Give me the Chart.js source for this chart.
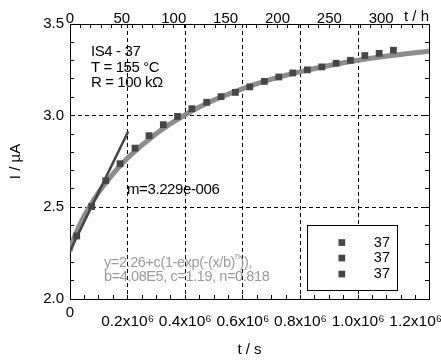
<!DOCTYPE html>
<html>
<head>
<meta charset="utf-8">
<script src="https://cdn.jsdelivr.net/npm/chart.js@4.4.0/dist/chart.umd.min.js"></script>
<style>
  body { margin: 0; background: #fff; }
  #wrap { width: 441px; height: 364px; }
</style>
</head>
<body>
<div id="wrap"><canvas id="chart" width="441" height="364"></canvas></div>
<script>
// measured current of sample IS4 - 37 (t in s, I in uA)
const timeS = [23260, 75350, 124000, 173600, 225700, 274300, 324000, 373300, 423000, 474600, 524300, 574000,
  624000, 674600, 724600, 773300, 824000, 874000, 923600, 973300, 1023300, 1073000, 1122600];
const currentUA = [2.344, 2.504, 2.645, 2.738, 2.823, 2.891, 2.951, 2.996, 3.038, 3.073, 3.104, 3.127,
  3.157, 3.187, 3.211, 3.233, 3.250, 3.266, 3.286, 3.302, 3.328, 3.340, 3.357];

// grey fit curve
const fitTimeS = [0, 10000, 25000, 50000, 100000, 150000, 200000, 300000, 400000, 500000, 600000,
  700000, 800000, 900000, 1000000, 1100000, 1246000];
const fitCurrentUA = [2.26, 2.316, 2.375, 2.456, 2.583, 2.684, 2.769, 2.903, 3.005, 3.085, 3.148,
  3.199, 3.240, 3.274, 3.302, 3.325, 3.352];

// initial slope line (m=3.229e-006)
const slopeTimeS = [0, 202000];
const slopeCurrentUA = [2.262, 2.914];

// axes
const xMax = 1246000;          // s
const xMinorStep = 50000;
const hMax = 346.1;            // h, same span as xMax
const xLabelValues = [0, 200000, 400000, 600000, 800000, 1000000, 1200000];
const xLabels = ['', '0.2x10⁶', '0.4x10⁶', '0.6x10⁶', '0.8x10⁶', '1.0x10⁶', '1.2x10⁶'];
const hLabelValues = [0, 50, 100, 150, 200, 250, 300];
const hLabels = ['0', '50', '100', '150', '200', '250', '300'];
const yLabelValues = [2.0, 2.5, 3.0, 3.5];
const yLabels = ['2.0', '2.5', '3.0', '3.5'];
const legendLabels = ['37', '37', '37'];

const FONT = '"Liberation Sans", Arial, Helvetica, sans-serif';
const transparent = 'rgba(0,0,0,0)';

function findIdx(v, values) {
  for (let i = 0; i < values.length; i++) {
    if (Math.abs(v - values[i]) < 1e-6 * Math.max(1, Math.abs(values[i]))) return i;
  }
  return -1;
}
function labelFor(values, labels) {
  return v => {
    const i = findIdx(v, values);
    return i < 0 ? '' : labels[i];
  };
}
// dashed grid only on the inner major values
function gridFor(values) {
  return ctx => {
    if (!ctx.tick) return transparent;
    const i = findIdx(ctx.tick.value, values);
    return (i > 0 && i < values.length - 1) ? '#000' : transparent;
  };
}

function pts(xs, ys) {
  return xs.map((x, i) => ({ x: x, y: ys[i] }));
}

const textPlugin = {
  id: 'texts',
  afterDraw(chart) {
    const ctx = chart.ctx;
    const xs = chart.scales.x;
    ctx.save();
    ctx.textBaseline = 'middle';
    ctx.fillStyle = '#000';
    ctx.font = '15px ' + FONT;

    // the origin label sits higher than the others
    ctx.textAlign = 'center';
    ctx.fillText('0', xs.getPixelForValue(0), 313);

    ctx.textAlign = 'left';
    ctx.letterSpacing = '-0.4px';
    ctx.fillText('IS4 - 37', 91, 52);
    ctx.fillText('T = 155 °C', 91, 67.5);
    ctx.fillText('R = 100 kΩ', 91, 83);
    ctx.fillText('m=3.229e-006', 127, 190);

    // fit formula in grey
    ctx.fillStyle = '#9a9a9a';
    ctx.font = '14.5px ' + FONT;
    let x = 104;
    const part1 = 'y=2.26+c(1-exp(-(x/b)';
    ctx.fillText(part1, x, 263);
    x += ctx.measureText(part1).width;
    ctx.font = '9px ' + FONT;
    ctx.fillText('n', x, 257);
    x += ctx.measureText('n').width;
    ctx.font = '14.5px ' + FONT;
    ctx.fillText(')),', x, 263);
    ctx.fillText('b=4.08E5, c=1.19, n=0.818', 104, 277);

    // legend box
    ctx.letterSpacing = '0px';
    ctx.fillStyle = '#fff';
    ctx.fillRect(307, 225, 91, 66);
    ctx.strokeStyle = '#000';
    ctx.lineWidth = 1;
    ctx.strokeRect(307.5, 225.5, 90, 65);
    const rows = [242.5, 258, 274];
    ctx.font = '14.5px ' + FONT;
    ctx.textAlign = 'right';
    legendLabels.forEach((t, i) => {
      ctx.fillStyle = '#464646';
      ctx.fillRect(338.5, rows[i] - 3.3, 6.7, 6.7);
      ctx.fillStyle = '#000';
      ctx.fillText(t, 390, rows[i]);
    });
    ctx.restore();
  }
};

new Chart(document.getElementById('chart'), {
  type: 'scatter',
  data: {
    datasets: [
      {
        label: '37',
        data: pts(timeS, currentUA),
        pointStyle: 'rect',
        pointRadius: 4.8,
        pointBackgroundColor: '#464646',
        pointBorderColor: '#464646',
        pointBorderWidth: 0,
        showLine: false,
        order: 0
      },
      {
        label: 'slope',
        data: pts(slopeTimeS, slopeCurrentUA),
        showLine: true,
        borderColor: '#444',
        borderWidth: 2.5,
        pointRadius: 0,
        order: 1
      },
      {
        label: 'fit',
        data: pts(fitTimeS, fitCurrentUA),
        showLine: true,
        borderColor: '#8c8c8c',
        borderWidth: 5,
        pointRadius: 0,
        cubicInterpolationMode: 'monotone',
        order: 2
      }
    ]
  },
  options: {
    responsive: false,
    animation: false,
    events: [],
    layout: { padding: 0 },
    plugins: { legend: { display: false }, tooltip: { enabled: false } },
    scales: {
      x: {
        type: 'linear',
        position: 'bottom',
        min: 0,
        max: xMax,
        // minor ticks every 0.05x10^6 s
        afterBuildTicks: s => {
          const t = [];
          for (let v = 0; v <= xMax; v += xMinorStep) t.push({ value: v });
          s.ticks = t;
        },
        afterFit: s => { s.height = 65; s.paddingLeft = 0; s.paddingRight = 0; },
        ticks: {
          autoSkip: false,
          maxRotation: 0,
          padding: 17,
          color: '#000',
          font: { family: FONT, size: 15.5 },
          callback: labelFor(xLabelValues, xLabels)
        },
        grid: { color: gridFor(xLabelValues), tickColor: '#000', tickLength: -4, lineWidth: 1 },
        border: { color: '#000', width: 1, dash: [4, 3] },
        title: { display: true, text: 't / s', color: '#000', font: { family: FONT, size: 15 }, padding: { top: 0, bottom: 5 } }
      },
      xh: {
        type: 'linear',
        position: 'top',
        min: 0,
        max: hMax,
        afterFit: s => { s.height = 24; s.paddingLeft = 0; s.paddingRight = 0; },
        ticks: {
          stepSize: 10,
          autoSkip: false,
          includeBounds: false,
          maxRotation: 0,
          padding: 0,
          color: '#000',
          font: { family: FONT, size: 15 },
          callback: labelFor(hLabelValues, hLabels)
        },
        grid: { color: transparent, tickColor: '#000', tickLength: -4 },
        border: { color: '#000', width: 1 },
        title: { display: true, text: 't / h', align: 'end', color: '#000', font: { family: FONT, size: 15 }, padding: { top: 8, bottom: 0 } }
      },
      y: {
        type: 'linear',
        position: 'left',
        min: 2.0,
        max: 3.5,
        afterFit: s => { s.width = 70; s.paddingTop = 0; s.paddingBottom = 0; },
        ticks: {
          stepSize: 0.1,
          autoSkip: false,
          padding: 10,
          color: '#000',
          font: { family: FONT, size: 15 },
          callback: labelFor(yLabelValues, yLabels)
        },
        grid: { color: gridFor(yLabelValues), tickColor: '#000', tickLength: -4, lineWidth: 1 },
        border: { color: '#000', width: 1, dash: [4, 3] },
        title: { display: true, text: 'I / µA', color: '#000', font: { family: FONT, size: 15 }, padding: { top: 7, bottom: 0 } }
      },
      yr: {
        type: 'linear',
        position: 'right',
        min: 2.0,
        max: 3.5,
        afterFit: s => { s.width = 12; s.paddingTop = 0; s.paddingBottom = 0; },
        ticks: { stepSize: 0.1, autoSkip: false, display: true, padding: 0, callback: () => '' },
        grid: { color: transparent, tickColor: '#000', tickLength: -4 },
        border: { color: '#000', width: 1 }
      }
    }
  },
  plugins: [textPlugin]
});
</script>
</body>
</html>
